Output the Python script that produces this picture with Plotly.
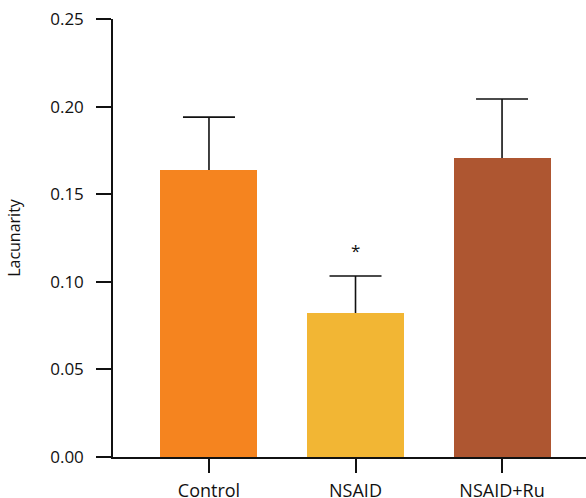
import plotly.graph_objects as go

categories = ["Control", "NSAID", "NSAID+Ru"]
means = [0.1638, 0.0822, 0.1707]
errors = [0.0302, 0.0211, 0.0336]
colors = ["#F5841F", "#F2B634", "#AE5631"]
y_ticks = [0.00, 0.05, 0.10, 0.15, 0.20, 0.25]
y_tick_labels = ["0.00", "0.05", "0.10", "0.15", "0.20", "0.25"]
significance = ["", "*", ""]

ink = "#111111"
fig = go.Figure()
fig.add_trace(go.Bar(
    x=categories, y=means, width=0.662,
    marker=dict(color=colors, line=dict(width=0)),
    showlegend=False, hoverinfo="skip",
))

# vertical stems of the upper error bars
stem_x, stem_y = [], []
for c, m, e in zip(categories, means, errors):
    stem_x += [c, c, None]
    stem_y += [m, m + e, None]
fig.add_trace(go.Scatter(x=stem_x, y=stem_y, mode="lines",
                         line=dict(color=ink, width=1.6),
                         showlegend=False, hoverinfo="skip"))
# caps on top
fig.add_trace(go.Scatter(
    x=categories, y=[m + e for m, e in zip(means, errors)], mode="markers",
    marker=dict(size=1, opacity=0),
    error_y=dict(type="data", array=[0] * len(errors), color=ink,
                 thickness=1.6, width=26),
    showlegend=False, hoverinfo="skip"))

for c, m, e, s in zip(categories, means, errors, significance):
    if s:
        fig.add_annotation(x=c, y=m + e, text=s, showarrow=False,
                           yanchor="bottom", yshift=12,
                           font=dict(size=17, color=ink))

font = "Open Sans, Liberation Sans, sans-serif"
fig.update_layout(
    width=586, height=498,
    margin=dict(l=113, r=0, t=19, b=41),
    plot_bgcolor="white", paper_bgcolor="white",
    font=dict(family=font, size=17, color=ink),
    bargap=0,
    xaxis=dict(range=[-0.655, 2.573], showline=True, linecolor=ink,
               linewidth=1.5, ticks="outside", ticklen=14, tickwidth=1.5,
               tickcolor=ink, showgrid=False, zeroline=False,
               ticklabelstandoff=3,
               tickfont=dict(size=18), fixedrange=True, automargin=False),
    yaxis=dict(range=[0, 0.25], tickvals=y_ticks, ticktext=y_tick_labels,
               showline=True, linecolor=ink, linewidth=1.5,
               ticks="outside", ticklen=15, tickwidth=1.5, tickcolor=ink,
               showgrid=False, zeroline=False, ticklabelstandoff=9,
               tickfont=dict(size=17), automargin=False,
               title=dict(text="Lacunarity", font=dict(size=16), standoff=26)),
)

fig.write_html("out.html", config={"displayModeBar": False},
               post_script="document.body.style.margin='0';")
